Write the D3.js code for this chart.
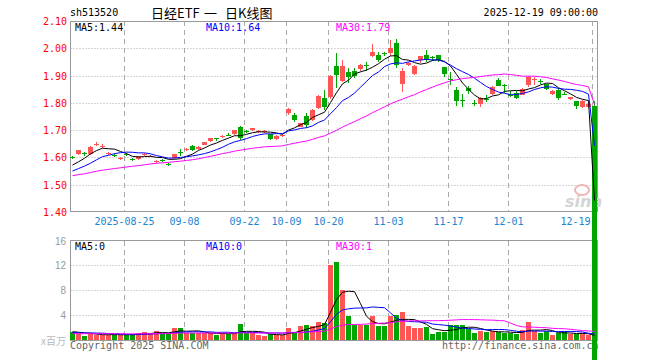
<!DOCTYPE html>
<html>
<head>
<meta charset="utf-8">
<script src="https://cdn.jsdelivr.net/npm/d3@7"></script>
<style>
body { margin: 0; background: #fff; }
svg { display: block; }
</style>
</head>
<body>
<svg width="660" height="360"></svg>
<script>
// daily candles, 2025-08-12 .. 2025-12-19 (last bar is the broken 09:00 quote)
var openP = [1.601,1.614,1.615,1.613,1.646,1.639,1.613,1.608,1.596,1.612,
    1.595,1.594,1.609,1.604,1.584,1.592,1.575,1.598,1.620,1.628,
    1.643,1.630,1.646,1.660,1.671,1.674,1.684,1.685,1.710,1.696,
    1.700,1.693,1.695,1.685,1.668,1.679,1.764,1.757,1.713,1.752,
    1.738,1.780,1.819,1.820,1.935,1.880,1.912,1.918,1.923,1.937,
    1.973,1.975,1.984,1.982,2.018,1.868,1.940,1.906,1.957,1.975,
    1.968,1.975,1.930,1.888,1.847,1.812,1.853,1.801,1.796,1.815,
    1.833,1.884,1.864,1.830,1.837,1.830,1.866,1.884,1.879,1.868,
    1.831,1.847,1.834,1.813,1.807,1.786,1.783,1.787];
var highP = [1.606,1.627,1.620,1.642,1.655,1.648,1.620,1.611,1.601,1.616,
    1.598,1.606,1.615,1.610,1.590,1.596,1.580,1.613,1.630,1.634,
    1.645,1.642,1.658,1.673,1.673,1.682,1.688,1.702,1.717,1.700,
    1.709,1.700,1.700,1.687,1.681,1.684,1.780,1.762,1.727,1.762,
    1.776,1.828,1.847,1.902,1.982,1.957,1.927,1.927,1.944,1.948,
    2.015,1.987,1.988,2.030,2.034,1.927,1.950,1.937,1.973,1.994,
    1.970,1.977,1.931,1.914,1.859,1.833,1.860,1.810,1.822,1.828,
    1.861,1.892,1.868,1.845,1.843,1.853,1.900,1.896,1.888,1.870,
    1.847,1.853,1.840,1.823,1.808,1.810,1.800,1.807];
var lowP = [1.594,1.610,1.606,1.610,1.642,1.635,1.610,1.602,1.592,1.605,
    1.588,1.592,1.605,1.600,1.578,1.585,1.568,1.596,1.605,1.625,
    1.625,1.628,1.644,1.658,1.662,1.670,1.678,1.683,1.665,1.688,
    1.698,1.690,1.690,1.665,1.665,1.676,1.757,1.730,1.711,1.707,
    1.735,1.778,1.774,1.815,1.856,1.877,1.872,1.892,1.917,1.917,
    1.969,1.950,1.970,1.970,1.927,1.840,1.935,1.903,1.945,1.948,
    1.952,1.950,1.893,1.866,1.789,1.786,1.832,1.790,1.786,1.802,
    1.830,1.860,1.837,1.823,1.813,1.827,1.857,1.866,1.868,1.847,
    1.827,1.810,1.828,1.810,1.777,1.780,1.781,0];
var closeP = [1.598,1.626,1.612,1.640,1.649,1.642,1.616,1.605,1.598,1.609,
    1.592,1.604,1.612,1.606,1.587,1.589,1.572,1.612,1.617,1.631,
    1.628,1.640,1.657,1.671,1.668,1.677,1.681,1.700,1.672,1.693,
    1.707,1.698,1.697,1.668,1.679,1.681,1.776,1.738,1.725,1.720,
    1.773,1.826,1.785,1.900,1.902,1.935,1.893,1.899,1.939,1.935,
    1.987,1.957,1.981,2.000,1.940,1.917,1.946,1.935,1.971,1.960,
    1.966,1.958,1.905,1.886,1.807,1.809,1.842,1.799,1.816,1.812,
    1.857,1.863,1.862,1.828,1.818,1.850,1.896,1.887,1.877,1.852,
    1.843,1.818,1.832,1.820,1.787,1.808,1.795,0];
// volume, millions of shares
var volume = [1.28,0.96,0.69,0.96,0.85,0.85,0.85,0.85,0.85,0.85,
    0.85,1.12,1.28,1.12,1.49,0.96,0.96,2.00,2.00,1.12,
    1.12,1.12,1.12,1.12,0.75,1.12,1.00,1.12,2.60,1.12,
    1.12,0.85,0.58,0.96,0.85,0.85,2.00,1.28,2.18,2.35,
    2.18,2.93,2.72,12.07,12.60,8.06,3.78,2.35,2.45,2.45,
    3.78,2.18,2.18,3.78,3.94,4.48,2.18,2.00,1.93,2.03,
    1.00,1.28,1.23,2.35,2.45,2.45,1.80,1.17,1.39,1.28,
    1.49,1.28,1.12,1.12,0.96,1.65,2.83,1.39,1.12,1.39,
    0.85,1.12,1.28,0.96,0.96,0.96,0.85,0];
// sessions before the window, only feed the moving averages
var priorClose = [1.51,1.52,1.50,1.51,1.52,1.53,1.51,1.518,
    1.52,1.515,1.53,1.52,1.51,1.525,1.53,1.522,
    1.545,1.555,1.55,1.55,
    1.535,1.52,1.535,1.525,1.525,
    1.566,1.547,1.56,1.589];
var priorVolume = [0.9,1.0,0.8,1.1,0.9,1.0,0.85,0.95,1.0,0.9,
    1.05,0.9,0.95,1.0,0.8,0.9,1.0,0.95,0.9,1.0,
    1.0,1.1,0.9,1.0,1.1,
    1.4,1.2,1.3,1.5];
var holidays = ["2025-10-01","2025-10-02","2025-10-03","2025-10-06","2025-10-07","2025-10-08"];
var tickDates = ["2025-08-25","2025-09-08","2025-09-22","2025-10-09","2025-10-20","2025-11-03","2025-11-17","2025-12-01","2025-12-19"];
var tickLabels = ["2025-08-25","09-08","09-22","10-09","10-20","11-03","11-17","12-01","12-19"];
var priceTicks = [1.40,1.50,1.60,1.70,1.80,1.90,2.00,2.10];
var volTicks = [4,8,12,16];
var priceMaText = ["MA5:1.44","MA10:1.64","MA30:1.79"];
var volMaText = ["MA5:0","MA10:0","MA30:1"];

var maColors = ["#000000","#0000ff","#ff00ff"];
var upColor = "#ff5555", downColor = "#00a600";
var mono = "DejaVu Sans Mono";

// trading days
var dates = [];
var fmt = d3.utcFormat("%Y-%m-%d");
for (var t = Date.UTC(2025,7,12); t <= Date.UTC(2025,11,19); t += 86400000) {
    var dd = new Date(t);
    var s = fmt(dd);
    if (dd.getUTCDay() == 0 || dd.getUTCDay() == 6) continue;
    if (holidays.indexOf(s) >= 0) continue;
    dates.push(s);
}

var bars = dates.map(function(d, i) {
    return {date: d, o: openP[i], h: highP[i], l: lowP[i], c: closeP[i], v: volume[i]};
});

function movAvg(prior, vals, n) {
    var all = prior.concat(vals);
    return vals.map(function(v, i) {
        var end = prior.length + i;
        return d3.mean(all.slice(end - n + 1, end + 1));
    });
}

var svg = d3.select("svg");
svg.append("rect").attr("width", 660).attr("height", 360).attr("fill", "#fff");

var x = d3.scaleBand().domain(dates).range([69, 597]);
var y = d3.scaleLinear().domain([1.40, 2.10]).range([212, 21]);
var yv = d3.scaleLinear().domain([0, 16]).range([340, 240.5]);

function cx(d) { return x(d) + 3.5; }

var left = 70.5, right = 597.5;

// grid lines
var grid = svg.append("g").attr("stroke", "#aaa").attr("stroke-width", 1);
grid.selectAll(".hp").data(priceTicks.slice(1, -1)).enter().append("line")
    .attr("x1", left).attr("x2", right)
    .attr("y1", function(d) { return Math.round(y(d)) + 0.5; })
    .attr("y2", function(d) { return Math.round(y(d)) + 0.5; })
    .attr("stroke-dasharray", "1,2");
grid.selectAll(".hv").data(volTicks.slice(0, -1)).enter().append("line")
    .attr("x1", left).attr("x2", right)
    .attr("y1", function(d) { return Math.round(yv(d)) + 0.5; })
    .attr("y2", function(d) { return Math.round(yv(d)) + 0.5; })
    .attr("stroke-dasharray", "1,2");
grid.selectAll(".vp").data(tickDates).enter().append("line")
    .attr("x1", function(d) { return x(d) + 1.5; })
    .attr("x2", function(d) { return x(d) + 1.5; })
    .attr("y1", 21).attr("y2", 212)
    .attr("stroke-dasharray", "5,4");
grid.selectAll(".vv").data(tickDates).enter().append("line")
    .attr("x1", function(d) { return x(d) + 1.5; })
    .attr("x2", function(d) { return x(d) + 1.5; })
    .attr("y1", 241).attr("y2", 340)
    .attr("stroke-dasharray", "5,4");

// frames
svg.append("rect").attr("x", left).attr("y", 21.5).attr("width", right - left).attr("height", 190)
    .attr("fill", "none").attr("stroke", "#999");
svg.append("rect").attr("x", left).attr("y", 240.5).attr("width", right - left).attr("height", 100)
    .attr("fill", "none").attr("stroke", "#999");

// axis labels
svg.append("g").selectAll("text").data(priceTicks).enter().append("text")
    .attr("x", 67).attr("y", function(d) { return y(d) + 4; })
    .attr("text-anchor", "end").attr("font-family", mono).attr("font-size", 10)
    .attr("fill", "#ff0000")
    .text(function(d) { return d.toFixed(2); });
svg.append("g").selectAll("text").data(volTicks).enter().append("text")
    .attr("x", 66).attr("y", function(d) { return yv(d) + 4; })
    .attr("text-anchor", "end").attr("font-family", "Liberation Sans").attr("font-size", 10)
    .attr("fill", "#999")
    .text(function(d) { return d; });
svg.append("text").attr("x", 66).attr("y", 345).attr("text-anchor", "end")
    .attr("font-family", "Noto Sans CJK SC").attr("font-size", 10).attr("fill", "#bbb")
    .text("x百万");
var lastTick = tickDates.length - 1;
svg.append("g").selectAll("text").data(tickDates).enter().append("text")
    .attr("x", function(d, i) { return i == lastTick ? x(d) - 0.5 : x(d) + 1.5; })
    .attr("y", 225)
    .attr("text-anchor", function(d, i) { return i == lastTick ? "end" : "middle"; })
    .attr("font-family", mono).attr("font-size", 10)
    .attr("fill", "#1a85d0")
    .text(function(d, i) { return tickLabels[i]; });

// header
svg.append("text").attr("x", 70).attr("y", 16).attr("font-family", mono).attr("font-size", 10)
    .attr("fill", "#000").text("sh513520");
svg.append("text").attr("x", 151).attr("y", 17.5).attr("font-family", "Noto Sans CJK SC")
    .attr("font-size", 13).attr("fill", "#000").text("日经ETF");
svg.append("text").attr("x", 204).attr("y", 17.5).attr("font-family", "Noto Sans CJK SC")
    .attr("font-size", 13).attr("fill", "#000").text("一");
svg.append("text").attr("x", 225).attr("y", 17.5).attr("font-family", "Noto Sans CJK SC")
    .attr("font-size", 13).attr("fill", "#000").text("日K线图");
svg.append("text").attr("x", 598).attr("y", 16).attr("text-anchor", "end")
    .attr("font-family", mono).attr("font-size", 10).attr("fill", "#000")
    .text("2025-12-19 09:00:00");

var maX = [75, 206, 336];
svg.append("g").selectAll("text").data(priceMaText).enter().append("text")
    .attr("x", function(d, i) { return maX[i]; }).attr("y", 31)
    .attr("font-family", mono).attr("font-size", 10)
    .attr("fill", function(d, i) { return maColors[i]; })
    .text(function(d) { return d; });
svg.append("g").selectAll("text").data(volMaText).enter().append("text")
    .attr("x", function(d, i) { return maX[i]; }).attr("y", 250)
    .attr("font-family", mono).attr("font-size", 10)
    .attr("fill", function(d, i) { return maColors[i]; })
    .text(function(d) { return d; });

// footer
svg.append("text").attr("x", 70).attr("y", 349).attr("font-family", mono).attr("font-size", 10)
    .attr("fill", "#666").text("Copyright 2025 SINA.COM");
svg.append("text").attr("x", 442).attr("y", 349).attr("font-family", mono).attr("font-size", 10)
    .attr("fill", "#666").text("http://finance.sina.com.cn");

// watermark
svg.append("ellipse").attr("cx", 582).attr("cy", 190).attr("rx", 7).attr("ry", 5)
    .attr("fill", "none").attr("stroke", "#f0b4b4").attr("stroke-width", 2);
svg.append("text").attr("x", 565).attr("y", 207).attr("font-family", "DejaVu Sans")
    .attr("font-size", 16).attr("font-weight", "bold").attr("font-style", "italic")
    .attr("fill", "#d4d4d4").text("sina");

function col(d) { return d.c >= d.o ? upColor : downColor; }

// volume bars
svg.append("g").selectAll("rect").data(bars).enter().append("rect")
    .attr("x", function(d) { return x(d.date) + 1; })
    .attr("width", 5)
    .attr("y", function(d) { return Math.round(yv(d.v)); })
    .attr("height", function(d) { return 340 - Math.round(yv(d.v)); })
    .attr("fill", col)
    .attr("shape-rendering", "crispEdges");

// candles
var cg = svg.append("g").attr("shape-rendering", "crispEdges");
cg.selectAll("line").data(bars).enter().append("line")
    .attr("x1", function(d) { return cx(d.date); })
    .attr("x2", function(d) { return cx(d.date); })
    .attr("y1", function(d) { return y(d.h); })
    .attr("y2", function(d) { return y(d.l); })
    .attr("stroke", col);
cg.selectAll("rect").data(bars).enter().append("rect")
    .attr("x", function(d) { return x(d.date) + 1; })
    .attr("width", 5)
    .attr("y", function(d) { return Math.round(y(Math.max(d.o, d.c))); })
    .attr("height", function(d) { return Math.max(1, Math.round(y(Math.min(d.o, d.c))) - Math.round(y(Math.max(d.o, d.c)))); })
    .attr("fill", col);

// moving averages
var spans = [5, 10, 30];
spans.forEach(function(n, k) {
    var mp = movAvg(priorClose, closeP, n);
    var lp = d3.line().x(function(d, i) { return cx(dates[i]); }).y(function(d) { return y(d); });
    svg.append("path").attr("d", lp(mp)).attr("fill", "none")
        .attr("stroke", maColors[k]).attr("stroke-width", 1);
    var mv = movAvg(priorVolume, volume, n);
    var lv = d3.line().x(function(d, i) { return cx(dates[i]); }).y(function(d) { return yv(d); });
    svg.append("path").attr("d", lv(mv)).attr("fill", "none")
        .attr("stroke", maColors[k]).attr("stroke-width", 1);
});
</script>
</body>
</html>
